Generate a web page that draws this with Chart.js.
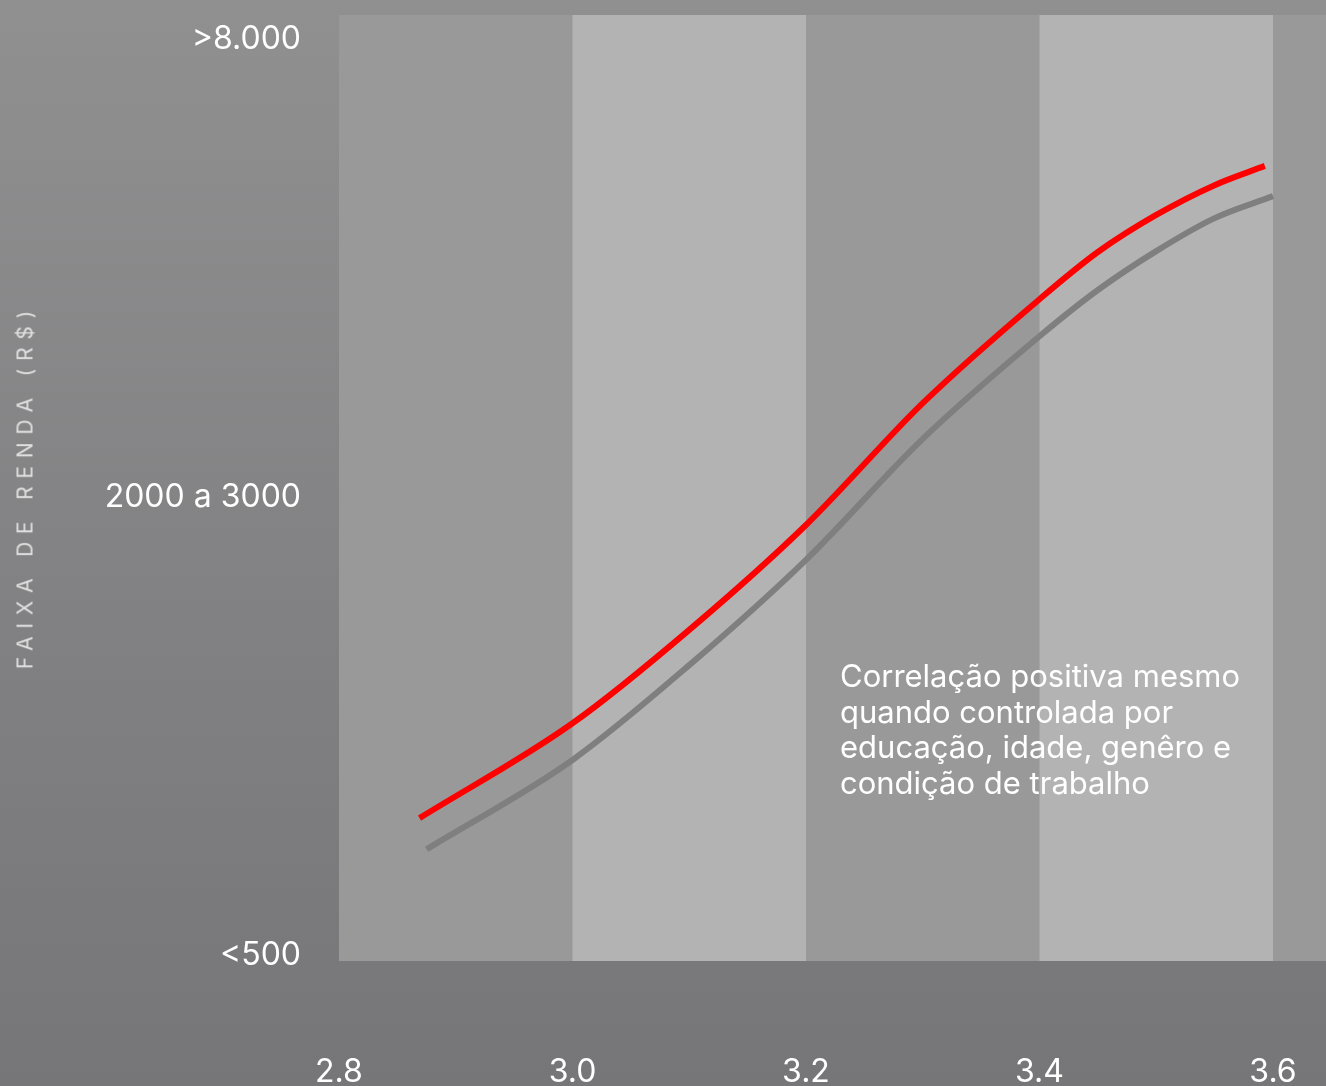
<!DOCTYPE html>
<html>
<head>
<meta charset="utf-8">
<script src="https://cdn.jsdelivr.net/npm/chart.js@4.4.1/dist/chart.umd.min.js"></script>
<style>
  html, body { margin: 0; padding: 0; width: 1326px; height: 1086px; overflow: hidden; }
  body { background: linear-gradient(to bottom, #909091 0%, #767678 100%); font-family: Inter, sans-serif; }
  #wrap { position: absolute; left: 0; top: 0; width: 1326px; height: 1100px; }
  #ytitle {
    position: absolute; left: 25px; top: 486px;
    transform: translate(-50%, -50%) rotate(-90deg);
    white-space: nowrap; color: #e0e0e0; font-size: 21px; letter-spacing: 7.8px;
    font-family: Inter, sans-serif;
  }
</style>
</head>
<body>
<div id="wrap"><canvas id="chart"></canvas></div>
<div id="ytitle">FAIXA DE RENDA (R$)</div>
<script>
// x ticks and y categories
const xTicks = [2.8, 3.0, 3.2, 3.4, 3.6];
const yTicks = [0, 1, 2];
const yTickLabels = ['<500', '2000 a 3000', '>8.000'];
// lighter vertical bands [from, to]
const lightBands = [[3.0, 3.2], [3.4, 3.6]];

// red curve
const redX = [2.869, 3.0, 3.1, 3.2, 3.3, 3.4, 3.45, 3.5, 3.55, 3.593];
const redY = [0.300, 0.507, 0.711, 0.940, 1.206, 1.433, 1.536, 1.617, 1.682, 1.724];
// gray curve
const grayX = [2.875, 3.0, 3.1, 3.2, 3.3, 3.4, 3.45, 3.5, 3.55, 3.6];
const grayY = [0.232, 0.427, 0.634, 0.864, 1.128, 1.352, 1.453, 1.538, 1.610, 1.658];

const note = ['Correlação positiva mesmo', 'quando controlada por', 'educação, idade, genêro e', 'condição de trabalho'];

const toPts = (xs, ys) => xs.map((x, i) => ({ x, y: ys[i] }));

const bandsPlugin = {
    id: 'bands',
    beforeDatasetsDraw(chart) {
        const { ctx, chartArea: a, scales: { x } } = chart;
        ctx.save();
        ctx.fillStyle = '#999999';
        ctx.fillRect(a.left, a.top, a.right - a.left, a.bottom - a.top);
        ctx.fillStyle = '#b3b3b3';
        lightBands.forEach(([f, t]) => {
            const x0 = x.getPixelForValue(f), x1 = x.getPixelForValue(t);
            ctx.fillRect(x0, a.top, x1 - x0, a.bottom - a.top);
        });
        ctx.restore();
    },
    afterDatasetsDraw(chart) {
        const { ctx } = chart;
        ctx.save();
        ctx.fillStyle = '#ffffff';
        ctx.font = '31px Inter, sans-serif';
        ctx.textBaseline = 'middle';
        note.forEach((s, i) => ctx.fillText(s, 840, 678 + i * 35.5));
        ctx.restore();
    }
};

new Chart(document.getElementById('chart'), {
    type: 'scatter',
    data: {
        datasets: [{
            label: 'Controlado',
            data: toPts(grayX, grayY),
            showLine: true,
            borderColor: '#7f7f7f',
            borderWidth: 6,
            pointRadius: 0,
            cubicInterpolationMode: 'monotone'
        }, {
            label: 'Correlação',
            data: toPts(redX, redY),
            showLine: true,
            borderColor: '#ff0000',
            borderWidth: 6,
            pointRadius: 0,
            cubicInterpolationMode: 'monotone'
        }]
    },
    options: {
        responsive: true,
        maintainAspectRatio: false,
        animation: false,
        layout: { padding: { top: 15, left: 0, right: 0, bottom: 0 } },
        plugins: {
            legend: { display: false },
            tooltip: { enabled: false }
        },
        scales: {
            x: {
                type: 'linear',
                min: 2.8,
                max: 3.6454,
                afterBuildTicks: s => { s.ticks = xTicks.map(v => ({ value: v })); },
                afterFit: s => { s.height = 139; s.paddingLeft = 0; s.paddingRight = 0; },
                grid: { display: false, drawTicks: false },
                border: { display: false },
                ticks: {
                    color: '#ffffff',
                    padding: 92,
                    maxRotation: 0,
                    font: { family: 'Inter, sans-serif', size: 32 },
                    callback: v => v.toFixed(1)
                }
            },
            y: {
                type: 'linear',
                min: -0.012,
                max: 2.0535,
                afterBuildTicks: s => { s.ticks = yTicks.map(v => ({ value: v })); },
                afterFit: s => { s.width = 339; s.paddingTop = 0; s.paddingBottom = 0; },
                grid: { display: false, drawTicks: false },
                border: { display: false },
                ticks: {
                    color: '#ffffff',
                    padding: 38,
                    font: { family: 'Inter, sans-serif', size: 32 },
                    callback: v => yTickLabels[yTicks.indexOf(v)]
                }
            }
        }
    },
    plugins: [bandsPlugin]
});
</script>
</body>
</html>
